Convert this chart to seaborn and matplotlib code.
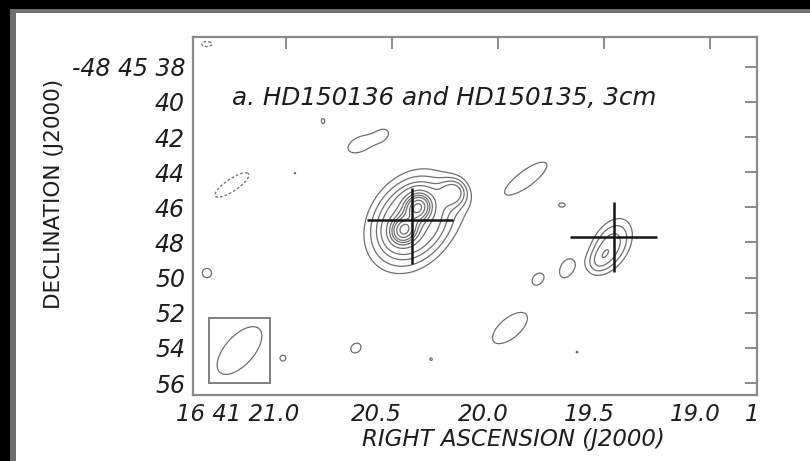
import numpy as np
import matplotlib
matplotlib.use("Agg")
import matplotlib.pyplot as plt
import seaborn as sns
from matplotlib.patches import Rectangle
from matplotlib.transforms import ScaledTranslation, Bbox, TransformedBbox

# ---------------------------------------------------------------------------
# Map frame: RA in seconds past 16h41m, Dec in arcsec past -48d45m
# ---------------------------------------------------------------------------
ra_ticks = [21.0, 20.5, 20.0, 19.5, 19.0]
ra_tick_labels = ["16 41 21.0", "20.5", "20.0", "19.5", "19.0"]
dec_ticks = [38, 40, 42, 44, 46, 48, 50, 52, 54, 56]
dec_tick_labels = ["-48 45 38", "40", "42", "44", "46", "48", "50", "52", "54", "56"]
ra_limits = (21.438, 18.779)
dec_limits = (56.68, 36.29)

# ---------------------------------------------------------------------------
# 3 cm emission model: elliptical Gaussian components (peak in units of rms)
# ---------------------------------------------------------------------------
comp_name = ["HD150136 envelope", "HD150136 N", "HD150136 S", "HD150136 ext",
             "HD150135", "HD150135 tail",
             "b01", "b02", "b03a", "b03b", "b04", "b05", "b07", "b08",
             "b09", "b10", "b12", "b13", "b14", "b15", "b16", "b17", "b18"]
comp_ra = [20.406, 20.377, 20.443, 20.202,
           19.467, 19.528,
           21.371, 20.824, 20.650, 20.537, 21.253, 20.956, 20.739, 21.371,
           19.863, 19.698, 19.679, 19.811, 19.943, 20.669, 21.013, 20.315, 19.627]
comp_dec = [46.79, 45.99, 47.29, 45.13,
            48.15, 49.12,
            36.71, 41.09, 42.40, 41.83, 44.73, 44.05, 48.72, 49.74,
            44.33, 45.87, 49.46, 50.03, 52.87, 54.01, 54.58, 54.64, 54.24]
comp_peak = [9.0, 13.0, 13.0, 4.0,
             5.6, 1.5,
             -3.25, 3.15, 3.6, 2.0, -3.6, 3.05, -3.3, 3.3,
             3.6, 3.15, 3.35, 3.3, 3.6, 3.4, 3.2, 3.05, 3.05]
comp_sig_ra = [0.152, 0.039, 0.039, 0.047,
               0.090, 0.045,
               0.060, 0.025, 0.090, 0.035, 0.132, 0.020, 0.020, 0.050,
               0.155, 0.045, 0.040, 0.035, 0.136, 0.047, 0.038, 0.020, 0.020]
comp_sig_dec = [2.01, 0.49, 0.49, 0.57,
                1.35, 0.55,
                0.35, 0.45, 0.76, 0.40, 1.15, 0.30, 0.90, 0.60,
                1.49, 0.35, 0.66, 0.42, 1.47, 0.55, 0.45, 0.25, 0.25]
comp_rho = [0.25, 0.11, 0.11, 0.0,
            0.38, 0.3,
            0.0, 0.0, 0.45, 0.3, 0.81, 0.0, 0.0, 0.0,
            0.80, 0.0, 0.3, 0.3, 0.63, 0.2, 0.0, 0.0, 0.0]

contour_levels = [3, 4, 5, 6, 8, 10, 12, 14, 17, 20]
negative_levels = [-3]

# Optical positions of the two stars (cross arms)
star_name = ["HD150136", "HD150135"]
star_ra = [20.406, 19.452]
star_dec = [46.72, 47.68]
star_ra_east = [20.618, 19.660]
star_ra_west = [20.210, 19.252]
star_dec_north = [44.88, 45.68]
star_dec_south = [49.25, 49.67]

# Restoring beam (FWHM arcsec, position angle deg)
beam_major = 3.1
beam_minor = 1.45
beam_pa = -33.0
dec_ref_deg = 48.76

# ---------------------------------------------------------------------------
sns.set_theme(style="white")
plt.rcParams["font.family"] = ["DejaVu Sans"]
plt.rcParams["axes.edgecolor"] = "#8a8a8a"

fig = plt.figure(figsize=(8.1, 4.61), dpi=100)
fig.patch.set_facecolor("white")

ax = fig.add_axes([192.7 / 810, 1 - 395 / 461, (757 - 192.7) / 810, (395 - 36.7) / 461])
ax.set_facecolor("white")

# model image
ra_grid = np.linspace(ra_limits[1], ra_limits[0], 1300)
dec_grid = np.linspace(dec_limits[1], dec_limits[0], 900)
RA, DEC = np.meshgrid(ra_grid, dec_grid)
Z = np.zeros_like(RA)
for r0, d0, pk, sr, sd, rho in zip(comp_ra, comp_dec, comp_peak,
                                    comp_sig_ra, comp_sig_dec, comp_rho):
    dx = (RA - r0) / sr
    dy = (DEC - d0) / sd
    q = (dx * dx - 2 * rho * dx * dy + dy * dy) / (1 - rho * rho)
    Z += pk * np.exp(-0.5 * q)

line_grey = "#6e6e6e"
ax.contour(RA, DEC, Z, levels=contour_levels, colors=line_grey,
           linewidths=0.9, linestyles="solid")
ax.contour(RA, DEC, Z, levels=negative_levels, colors=line_grey,
           linewidths=0.9, linestyles=[(0, (2.2, 1.6))])

# star crosses
for i in range(len(star_name)):
    ax.plot([star_ra_east[i], star_ra_west[i]], [star_dec[i], star_dec[i]],
            color="#151515", lw=1.8, solid_capstyle="butt")
    ax.plot([star_ra[i], star_ra[i]], [star_dec_north[i], star_dec_south[i]],
            color="#151515", lw=1.8, solid_capstyle="butt")

# beam inset
box_ra = (21.361, 21.074)
box_dec = (52.30, 56.0)
ax.add_patch(Rectangle((box_ra[0], box_dec[0]), box_ra[1] - box_ra[0],
                       box_dec[1] - box_dec[0], fill=False,
                       ec="#808080", lw=1.4, zorder=3))
bc_ra = 0.5 * (box_ra[0] + box_ra[1])
bc_dec = 0.5 * (box_dec[0] + box_dec[1])
t = np.linspace(0, 2 * np.pi, 200)
pa = np.radians(beam_pa)
a, b = beam_major / 2, beam_minor / 2
east = a * np.cos(t) * np.sin(pa) + b * np.sin(t) * np.cos(pa)
north = a * np.cos(t) * np.cos(pa) - b * np.sin(t) * np.sin(pa)
ax.plot(bc_ra + east / (15 * np.cos(np.radians(dec_ref_deg))), bc_dec - north,
        color=line_grey, lw=0.9)

# axes
ax.set_xlim(*ra_limits)
ax.set_ylim(*dec_limits)
ax.set_xticks(ra_ticks)
ax.set_xticklabels(ra_tick_labels)
ax.set_yticks(dec_ticks)
ax.set_yticklabels(dec_tick_labels)
for s in ax.spines.values():
    s.set_linewidth(1.6)
    s.set_color("#8a8a8a")
ax.tick_params(direction="in", length=8.5, width=1.4, color="#8a8a8a",
               top=True, right=True, labelcolor="#1c1c1c")
ax.tick_params(axis="x", pad=6.0, labelsize=16.5)
ax.tick_params(axis="y", pad=5.5, labelsize=17)
for lbl in ax.get_xticklabels() + ax.get_yticklabels():
    lbl.set_fontstyle("italic")

# RA labels sit a little to the left of their ticks
for k, tick in enumerate(ax.xaxis.get_major_ticks()):
    lab = tick.label1
    if k == 0:
        lab.set_horizontalalignment("right")
        shift = 0.14
    else:
        shift = -0.15
    lab.set_transform(lab.get_transform() + ScaledTranslation(shift, 0, fig.dpi_scale_trans))

ax.set_xlabel("RIGHT ASCENSION (J2000)", fontsize=16.5, fontstyle="italic", color="#1c1c1c")
ax.xaxis.label.set_va("center")
ax.xaxis.set_label_coords(0.569, -0.1235)
ax.set_ylabel("DECLINATION (J2000)", fontsize=15.5, color="#1c1c1c")
ax.yaxis.label.set_va("center")
ax.yaxis.set_label_coords(-0.2458, 0.561)

ax.text(0.0696, 0.829, "a. HD150136 and HD150135, 3cm", transform=ax.transAxes,
        fontsize=17.7, fontstyle="italic", ha="left", va="center", color="#1c1c1c")

# neighbouring panel's first RA label, cut at the panel edge
edge = fig.text(745 / 810, 1 - 414 / 461, "16", fontsize=16.5, fontstyle="italic",
                ha="left", va="center", color="#1c1c1c")
edge.set_clip_box(TransformedBbox(Bbox([[0, 0], [760 / 810, 1]]), fig.transFigure))
edge.set_clip_on(True)

# dark page border along the left and top edges
fig.add_artist(Rectangle((0, 0), 10 / 810, 1, transform=fig.transFigure,
                         fc="black", ec="none", zorder=10))
fig.add_artist(Rectangle((10 / 810, 0), 6 / 810, 1 - 9 / 461, transform=fig.transFigure,
                         fc="#6f6f6f", ec="none", zorder=10))
fig.add_artist(Rectangle((0, 1 - 9 / 461), 1, 9 / 461, transform=fig.transFigure,
                         fc="black", ec="none", zorder=10))
fig.add_artist(Rectangle((10 / 810, 1 - 13 / 461), 1, 4 / 461, transform=fig.transFigure,
                         fc="#6f6f6f", ec="none", zorder=10))

fig.savefig("out.png", dpi=100)
